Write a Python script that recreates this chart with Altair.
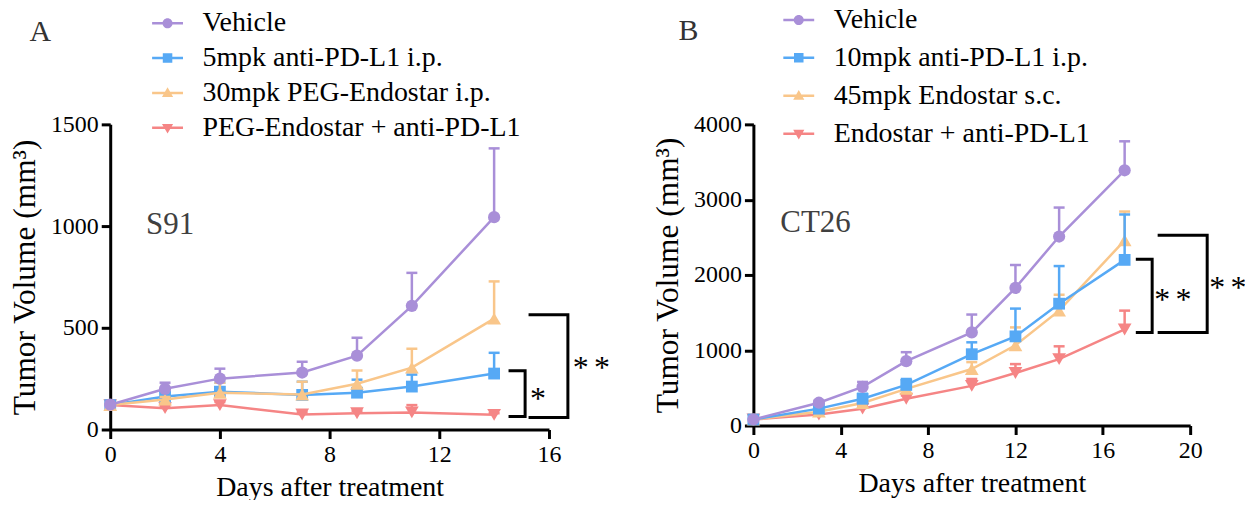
import altair as alt
import pandas as pd

FONT = "Liberation Serif"

# ---------------- Panel A (S91) ----------------
A_DAYS = [0, 2, 4, 7, 9, 11, 14]
A_NAMES = ["Vehicle", "5mpk anti-PD-L1 i.p.", "30mpk PEG-Endostar i.p.", "PEG-Endostar + anti-PD-L1"]
A_VEHICLE = [122, 200, 250, 280, 363, 608, 1044]
A_VEHICLE_SEM = [5, 30, 49, 53, 88, 162, 338]
A_PDL1 = [120, 162, 186, 170, 181, 211, 275]
A_PDL1_SEM = [3, 24, 44, 65, 64, 59, 102]
A_ENDO = [120, 147, 181, 172, 225, 304, 545]
A_ENDO_SEM = [3, 13, 49, 63, 65, 93, 183]
A_COMBO = [120, 105, 120, 74, 80, 84, 72]
A_COMBO_SEM = [3, 10, 15, 10, 12, 36, 8]
A_XTICKS = [0, 4, 8, 12, 16]
A_YTICKS = [0, 500, 1000, 1500]

# ---------------- Panel B (CT26) ----------------
B_DAYS = [0, 3, 5, 7, 10, 12, 14, 17]
B_NAMES = ["Vehicle", "10mpk anti-PD-L1 i.p.", "45mpk Endostar s.c.", "Endostar + anti-PD-L1"]
B_VEHICLE = [80, 303, 513, 855, 1237, 1829, 2510, 3390]
B_VEHICLE_SEM = [5, 27, 66, 119, 237, 303, 385, 385]
B_PDL1 = [80, 224, 355, 539, 947, 1184, 1618, 2200]
B_PDL1_SEM = [5, 26, 66, 79, 158, 369, 500, 603]
B_ENDO = [80, 184, 300, 487, 750, 1066, 1526, 2460]
B_ENDO_SEM = [5, 16, 40, 118, 92, 237, 211, 382]
B_COMBO = [80, 145, 224, 355, 526, 697, 882, 1276]
B_COMBO_SEM = [5, 15, 26, 45, 92, 119, 170, 250]
B_XTICKS = [0, 4, 8, 12, 16, 20]
B_YTICKS = [0, 1000, 2000, 3000, 4000]

# significance brackets: (x_left, x_right, y_bottom, y_top, label, label_x, label_y)
STAR2 = "*\u2006*"
A_BRACKETS = [
    (14.58, 15.13, 64, 289, "*", 15.31, 172),
    (15.31, 16.69, 59, 564, STAR2, 16.87, 328),
]
B_BRACKETS = [
    (17.58, 18.26, 1237, 2210, STAR2, 18.36, 1737),
    (18.58, 20.78, 1237, 2526, STAR2, 20.87, 1895),
]

COLORS = ["#A98FD8", "#56A9F5", "#F9C68A", "#F58585"]
PLOT_SHAPES = ["circle", "square", "triangle-up", "triangle-down"]
PLOT_SIZES = [150, 140, 190, 190]
# legend symbols: unit = 9 px (size 324); line spans +-15.5 px, marker ~10 px
LEGEND_PATHS = [
    "M-1.72,-0.14H1.72V0.14H-1.72Z M0.56,0 A0.56,0.56 0 1,1 -0.56,0 A0.56,0.56 0 1,1 0.56,0 Z",
    "M-1.72,-0.14H1.72V0.14H-1.72Z M-0.53,-0.53H0.53V0.53H-0.53Z",
    "M-1.72,-0.14H1.72V0.14H-1.72Z M0,-0.64L0.62,0.44L-0.62,0.44Z",
    "M-1.72,-0.14H1.72V0.14H-1.72Z M-0.62,-0.44L0.62,-0.44L0,0.64Z",
]

AXIS_STYLE = dict(
    domainColor="black", domainWidth=3, tickColor="black", tickWidth=3, tickSize=9,
    labelFont=FONT, labelFontSize=24, labelColor="black", titleFont=FONT,
    titleFontWeight="normal", titleColor="black", grid=False, format="d", labelFlush=False,
)


def panel(days, names, series, sems, draw_order, xdom, xticks, ydom, yticks,
          brackets, label, label_xy, letter, letter_xy, legend_xy, row_pad, w, h):
    rows = []
    for name, m, s in zip(names, series, sems):
        for d, mv, sv in zip(days, m, s):
            rows.append({"day": d, "mean": mv, "top": mv + sv, "group": name})
    df = pd.DataFrame(rows)

    xs = alt.Scale(domain=xdom, nice=False, zero=False)
    ys = alt.Scale(domain=ydom, nice=False)
    xa = alt.Axis(values=xticks, title="Days after treatment", labelPadding=4, titlePadding=7,
                  titleFontSize=28, **AXIS_STYLE)
    ya = alt.Axis(values=yticks, title="Tumor Volume (mm\u00b3)", labelPadding=3, titlePadding=9,
                  titleFontSize=31.5, **AXIS_STYLE)

    def xe(f):
        return alt.X(f + ":Q", scale=xs, axis=xa)

    def ye(f):
        return alt.Y(f + ":Q", scale=ys, axis=ya)

    layers = []
    for i in draw_order:
        sub = alt.Chart(df).transform_filter(alt.datum.group == names[i])
        layers.append(sub.mark_rule(color=COLORS[i], strokeWidth=2.5).encode(
            x=xe("day"), y=ye("mean"), y2=alt.Y2("top:Q")))
        layers.append(sub.mark_point(shape="stroke", size=121, color=COLORS[i],
                                     strokeWidth=2.5, opacity=1).encode(x=xe("day"), y=ye("top")))
        layers.append(sub.mark_line(color=COLORS[i], strokeWidth=2.5).encode(
            x=xe("day"), y=ye("mean")))
        layers.append(sub.mark_point(shape=PLOT_SHAPES[i], size=PLOT_SIZES[i], filled=True,
                                     color=COLORS[i], opacity=1).encode(x=xe("day"), y=ye("mean")))

    leg = alt.Legend(title=None, orient="none", legendX=legend_xy[0], legendY=legend_xy[1],
                     labelFont=FONT, labelFontSize=28, labelColor="black", labelOffset=21,
                     rowPadding=row_pad, symbolStrokeWidth=0, symbolOpacity=1, labelLimit=0,
                     symbolSize=324)
    legend_layer = alt.Chart(df).transform_filter("false").mark_point(
        filled=True, size=324, opacity=1).encode(
        x=xe("day"), y=ye("mean"),
        color=alt.Color("group:N", scale=alt.Scale(domain=names, range=COLORS), legend=leg),
        shape=alt.Shape("group:N", scale=alt.Scale(domain=names, range=LEGEND_PATHS), legend=leg),
    )
    layers.append(legend_layer)

    brows, srows = [], []
    for k, (x0, x1, yb, yt, lab, lx, ly) in enumerate(brackets):
        for o, (bx, by) in enumerate([(x0, yt), (x1, yt), (x1, yb), (x0, yb)]):
            brows.append({"id": k, "o": o, "bx": bx, "by": by})
        srows.append({"lab": lab, "lx": lx, "ly": ly})
    bdf = pd.DataFrame(brows)
    sdf = pd.DataFrame(srows)
    layers.append(alt.Chart(bdf).mark_line(color="black", strokeWidth=3, strokeJoin="miter",
                                           strokeCap="square").encode(
        x=xe("bx"), y=ye("by"), detail="id:N", order="o:Q"))
    layers.append(alt.Chart(sdf).mark_text(font=FONT, fontSize=32, align="left",
                                           baseline="alphabetic", dy=15, color="black").encode(
        x=xe("lx"), y=ye("ly"), text="lab:N"))

    tdf = pd.DataFrame({"t": [label]})
    layers.append(alt.Chart(tdf).mark_text(font=FONT, fontSize=31, align="left",
                                           baseline="alphabetic", color="#404040").encode(
        x=alt.value(label_xy[0]), y=alt.value(label_xy[1]), text="t:N"))
    ldf = pd.DataFrame({"t": [letter]})
    layers.append(alt.Chart(ldf).mark_text(font=FONT, fontSize=30, align="left",
                                           baseline="alphabetic", color="#333333").encode(
        x=alt.value(letter_xy[0]), y=alt.value(letter_xy[1]), text="t:N"))

    return alt.layer(*layers).properties(width=w, height=h)


pa = panel(A_DAYS, A_NAMES, [A_VEHICLE, A_PDL1, A_ENDO, A_COMBO],
           [A_VEHICLE_SEM, A_PDL1_SEM, A_ENDO_SEM, A_COMBO_SEM],
           [3, 1, 2, 0], [0, 16], A_XTICKS, [0, 1500], A_YTICKS, A_BRACKETS,
           "S91", (36, 110), "A", (-81, -84), (43.5, -115.5), 7, 440, 306)
pb = panel(B_DAYS, B_NAMES, [B_VEHICLE, B_PDL1, B_ENDO, B_COMBO],
           [B_VEHICLE_SEM, B_PDL1_SEM, B_ENDO_SEM, B_COMBO_SEM],
           [3, 2, 1, 0], [0, 20], B_XTICKS, [0, 4000], B_YTICKS, B_BRACKETS,
           "CT26", (27, 107.5), "B", (-75, -84.5), (31.5, -118.7), 10, 438, 302)

chart = alt.hconcat(pa, pb, spacing=41).resolve_scale(
    color="independent", shape="independent", x="independent", y="independent"
).properties(padding={"left": 0.5, "top": -3, "right": -2, "bottom": -2.5}).configure_view(stroke=None)

chart.save("out.html", embed_options={"renderer": "svg", "actions": False})
